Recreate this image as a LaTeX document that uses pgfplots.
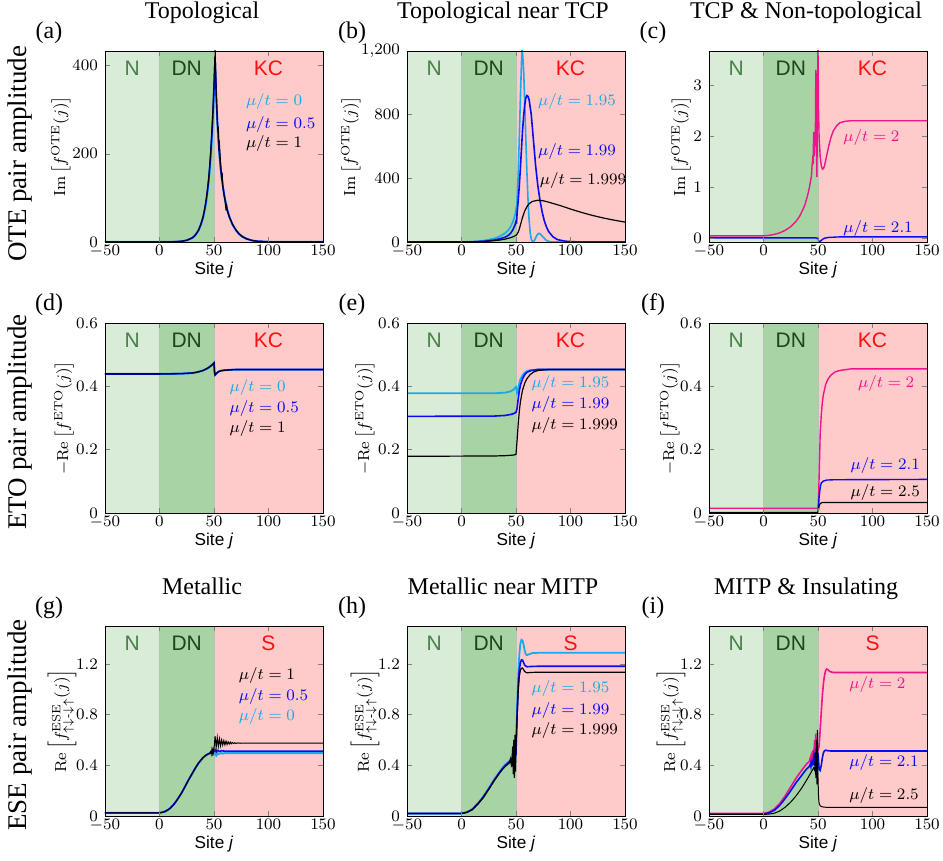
\documentclass[border=0pt]{standalone}
\usepackage{amsmath}
\usepackage[no-math]{fontspec}
\setmainfont{Liberation Serif}
\setsansfont{Liberation Sans}
\usepackage{pgfplots}
\pgfplotsset{compat=1.18}

\definecolor{lb}{RGB}{25,170,235}
\definecolor{bl}{RGB}{10,10,245}
\definecolor{pk}{RGB}{238,20,140}
\definecolor{cN}{RGB}{217,236,216}
\definecolor{cDN}{RGB}{168,211,164}
\definecolor{cKC}{RGB}{255,202,202}
\definecolor{cNt}{RGB}{72,130,72}
\definecolor{cDNt}{RGB}{28,70,28}
\definecolor{cKCt}{RGB}{255,15,15}
\definecolor{cSep}{RGB}{185,195,185}

% shaded N / DN / KC regions, args: ymin, ymax, right region name
\newcommand{\regions}[3]{%
  \fill[cN] (axis cs:-50,#1) rectangle (axis cs:0,#2);
  \fill[cDN] (axis cs:0,#1) rectangle (axis cs:50,#2);
  \fill[cKC] (axis cs:50,#1) rectangle (axis cs:150,#2);
  \draw[cSep,line width=0.4pt] (axis cs:0,#1) -- (axis cs:0,#2);
  \draw[cSep,line width=0.4pt] (axis cs:50,#1) -- (axis cs:50,#2);
  \node[font=\sffamily\fontsize{10.5}{12}\selectfont,text=cNt] at (rel axis cs:0.125,0.91) {N};
  \node[font=\sffamily\fontsize{10.5}{12}\selectfont,text=cDNt] at (rel axis cs:0.375,0.91) {DN};
  \node[font=\sffamily\fontsize{10.5}{12}\selectfont,text=cKCt] at (rel axis cs:0.75,0.91) {#3};
}

\pgfplotsset{
  panel/.style={
    scale only axis, width=109pt, height=95pt,
    xmin=-50, xmax=150, xtick={-50,0,50,100,150},
    tick align=inside, major tick length=2.5pt, axis on top,
    tick label style={font=\fontsize{8}{9}\selectfont},
    xticklabel style={inner sep=1.2pt},
    xlabel={Site \textit{j}},
    xlabel style={font=\sffamily\fontsize{8.6}{10}\selectfont, at={(axis description cs:0.5,-0.171)}, anchor=base},
    ylabel style={font=\fontsize{8}{9}\selectfont, anchor=center},
  },
}
\tikzset{lbl/.style={anchor=west, inner sep=0pt, font=\fontsize{8.3}{9}\selectfont}}

\begin{document}
\begin{tikzpicture}
\path[use as bounding box] (0,0) rectangle (471.5pt,430.5pt);

% titles, panel letters, row labels
\begin{scope}[every node/.style={font=\fontsize{12}{14}\selectfont}]
\node[anchor=base] at (101pt,421pt) {Topological};
\node[anchor=base] at (251.5pt,421pt) {Topological near TCP};
\node[anchor=base] at (403pt,421pt) {TCP \& Non-topological};
\node[anchor=base] at (101pt,133pt) {Metallic};
\node[anchor=base] at (251.5pt,133pt) {Metallic near MITP};
\node[anchor=base] at (403pt,133pt) {MITP \& Insulating};
\node at (24.5pt,414pt) {(a)};
\node at (176pt,414pt) {(b)};
\node at (326.5pt,414pt) {(c)};
\node at (24.5pt,278pt) {(d)};
\node at (176pt,278pt) {(e)};
\node at (326.5pt,278pt) {(f)};
\node at (24.5pt,126.5pt) {(g)};
\node at (176pt,126.5pt) {(h)};
\node at (326.5pt,126.5pt) {(i)};
\end{scope}
\begin{scope}[every node/.style={font=\fontsize{13.5}{15}\selectfont, rotate=90}]
\node at (10pt,353.5pt) {OTE pair amplitude};
\node at (10pt,219.5pt) {ETO pair amplitude};
\node at (10pt,68pt) {ESE pair amplitude};
\end{scope}

% (a)
\begin{axis}[panel, at={(52.5pt,309.5pt)}, anchor=south west, height=95.5pt,
  ymin=0, ymax=433, ytick={0,200,400},
  ylabel={$\mathrm{Im}\left[f^{\mathrm{OTE}}(j)\right]$},
  ylabel style={at={(axis description cs:-0.202,0.5)}}]
\regions{0}{433}{KC}
\addplot[lb, line width=1pt] coordinates {(-50,0) (0,0.04) (10,0.25) (15,0.6) (20,1.5) (25,3.7) (30,9) (32,13) (34,19) (36,27) (38,39) (40,55) (42,79) (43,95) (44,113) (45,135) (46,162) (47,195) (48,235) (49,283) (50,340) (51,403) (52,330) (53,272) (54,230) (55,196) (56,168) (58,127) (60,97) (62,74) (64,57) (67,39) (70,27) (73,18) (76,12) (80,7) (85,3.3) (90,1.6) (100,0.4) (110,0.1) (120,0) (150,0)};
\addplot[bl, line width=0.8pt] coordinates {(-50,0) (0,0.04) (10,0.26) (15,0.62) (20,1.55) (25,3.8) (30,9.2) (32,13.3) (34,19.5) (36,27.6) (38,40) (40,56) (42,81) (43,97) (44,116) (45,138) (46,166) (47,200) (48,241) (49,290) (50,348) (51,415) (52,338) (53,278) (54,235) (55,200) (56,171) (58,129) (60,98) (62,75) (64,58) (67,40) (70,27.5) (73,18.3) (76,12.2) (80,7.1) (85,3.4) (90,1.6) (100,0.4) (110,0.1) (120,0) (150,0)};
\addplot[black, line width=0.5pt] coordinates {(-50,0) (0,0.04) (10,0.26) (15,0.63) (20,1.6) (25,3.9) (30,9.4) (32,13.6) (34,20) (36,28.2) (38,41) (40,57.5) (42,83) (43,99) (44,119) (45,142) (46,171) (47,206) (48,249) (49,300) (50,362) (51,445) (52,345) (53,280) (53.5,250) (54,262) (54.5,215) (55,222) (56,180) (57,140) (57.5,158) (58,128) (59,108) (60,96) (61,72) (61.5,86) (62,72) (64,57) (67,40) (70,27.5) (73,18.3) (76,12.2) (80,7.1) (85,3.4) (90,1.6) (100,0.4) (110,0.1) (120,0) (150,0)};
\node[lbl, text=lb] at (axis cs:79,318) {$\mu/t = 0$};
\node[lbl, text=bl] at (axis cs:79,267) {$\mu/t = 0.5$};
\node[lbl, text=black] at (axis cs:79,223) {$\mu/t = 1$};
\end{axis}

% (b)
\begin{axis}[panel, at={(203.5pt,309.5pt)}, anchor=south west, height=95.5pt,
  ymin=0, ymax=1200, ytick={0,400,800,1200},
  ylabel={$\mathrm{Im}\left[f^{\mathrm{OTE}}(j)\right]$},
  ylabel style={at={(axis description cs:-0.257,0.5)}}]
\regions{0}{1200}{KC}
\addplot[lb, line width=0.8pt] coordinates {(-50,0) (0,0.5) (10,2) (20,8) (30,22) (35,35) (40,55) (43,75) (45,95) (47,125) (48,145) (49,165) (50,205) (50.5,190) (51,260) (52,420) (53,650) (54,900) (55,1120) (55.5,1210) (56,1190) (57,1080) (58,880) (59,650) (60,440) (61,270) (62,140) (63,60) (64,18) (65,5) (66,2) (67,10) (68,25) (69,40) (70,50) (71,54) (72,52) (73,45) (75,30) (77,15) (79,6) (82,1) (90,0) (150,0)};
\addplot[bl, line width=0.8pt] coordinates {(-50,0) (0,0.3) (10,1) (20,4) (30,12) (35,20) (40,30) (43,42) (45,55) (47,75) (48,90) (49,105) (50,130) (50.5,125) (51,180) (52,260) (53,350) (54,460) (55,580) (56,700) (57,790) (58,860) (59,905) (60,920) (61,915) (62,895) (64,800) (66,640) (68,480) (70,355) (72,262) (74,188) (76,132) (78,93) (80,65) (84,32) (88,15) (95,5) (105,1) (120,0) (150,0)};
\addplot[black, line width=0.6pt] coordinates {(-50,0) (0,0.3) (10,1) (20,3) (30,8) (35,12) (40,18) (45,27) (48,35) (50,42) (51,50) (52,62) (53,80) (54,105) (55,130) (56,155) (58,195) (60,222) (62,240) (65,255) (70,262) (75,259) (80,250) (90,230) (100,207) (110,186) (120,167) (130,151) (140,137) (150,125)};
\node[lbl, text=lb] at (axis cs:70,880) {$\mu/t = 1.95$};
\node[lbl, text=bl] at (axis cs:70,566) {$\mu/t = 1.99$};
\node[lbl, text=black] at (axis cs:71.5,388) {$\mu/t = 1.999$};
\end{axis}

% (c)
\begin{axis}[panel, at={(354.5pt,309.5pt)}, anchor=south west, height=95.5pt,
  ymin=-0.08, ymax=3.67, ytick={0,1,2,3},
  ylabel={$\mathrm{Im}\left[f^{\mathrm{OTE}}(j)\right]$},
  ylabel style={at={(axis description cs:-0.128,0.5)}}]
\regions{-0.08}{3.67}{KC}
\addplot[pk, line width=0.7pt] coordinates {(-50,0.04) (0,0.04) (5,0.05) (10,0.07) (15,0.1) (20,0.15) (25,0.22) (30,0.33) (33,0.42) (36,0.55) (38,0.65) (40,0.8) (41,0.88) (42,0.98) (43,1.1) (44,1.22) (44.5,1.4) (45,1.52) (45.5,1.45) (46,2.08) (46.5,1.6) (47,1.9) (47.5,1.8) (48,3.3) (48.5,1.9) (49,1.2) (49.5,2.8) (50,3.8) (50.5,2.5) (51,2.0) (52,1.6) (53,1.42) (54,1.35) (55,1.36) (56,1.42) (58,1.62) (60,1.82) (62,1.98) (64,2.1) (67,2.2) (70,2.26) (75,2.29) (80,2.3) (150,2.3)};
\addplot[bl, line width=0.7pt] coordinates {(-50,0) (48,0) (50,-0.01) (51,-0.09) (52,-0.07) (54,-0.03) (56,-0.005) (60,0.01) (70,0.02) (150,0.02)};
\node[lbl, text=pk] at (axis cs:73,1.97) {$\mu/t = 2$};
\node[lbl, text=bl] at (axis cs:73,0.18) {$\mu/t = 2.1$};
\end{axis}

% (d)
\begin{axis}[panel, at={(52.5pt,174pt)}, anchor=south west,
  ymin=0, ymax=0.6, ytick={0,0.2,0.4,0.6},
  ylabel={$-\mathrm{Re}\left[f^{\mathrm{ETO}}(j)\right]$},
  ylabel style={at={(axis description cs:-0.188,0.5)}}]
\regions{0}{0.6}{KC}
\addplot[lb, line width=1pt] coordinates {(-50,0.439) (0,0.439) (10,0.4395) (20,0.44) (25,0.441) (30,0.442) (35,0.445) (40,0.45) (43,0.455) (45,0.459) (47,0.464) (49,0.47) (50,0.474) (50.5,0.445) (51,0.436) (52,0.44) (54,0.446) (56,0.449) (60,0.451) (70,0.453) (150,0.453)};
\addplot[bl, line width=0.8pt] coordinates {(-50,0.439) (0,0.439) (10,0.4395) (20,0.44) (25,0.441) (30,0.442) (35,0.445) (40,0.45) (43,0.455) (45,0.459) (47,0.464) (49,0.47) (50,0.474) (50.5,0.445) (51,0.436) (52,0.44) (54,0.446) (56,0.449) (60,0.451) (70,0.453) (150,0.453)};
\addplot[black, line width=0.5pt] coordinates {(-50,0.439) (0,0.439) (10,0.4395) (20,0.44) (25,0.441) (30,0.442) (35,0.445) (40,0.45) (43,0.455) (45,0.459) (47,0.464) (49,0.47) (50,0.474) (50.5,0.445) (51,0.436) (52,0.44) (54,0.446) (56,0.449) (60,0.451) (70,0.453) (150,0.453)};
\node[lbl, text=lb] at (axis cs:64,0.397) {$\mu/t = 0$};
\node[lbl, text=bl] at (axis cs:64,0.33) {$\mu/t = 0.5$};
\node[lbl, text=black] at (axis cs:64,0.268) {$\mu/t = 1$};
\end{axis}

% (e)
\begin{axis}[panel, at={(203.5pt,174pt)}, anchor=south west,
  ymin=0, ymax=0.6, ytick={0,0.2,0.4,0.6},
  ylabel={$-\mathrm{Re}\left[f^{\mathrm{ETO}}(j)\right]$},
  ylabel style={at={(axis description cs:-0.193,0.5)}}]
\regions{0}{0.6}{KC}
\addplot[lb, line width=0.9pt] coordinates {(-50,0.378) (30,0.378) (40,0.38) (45,0.384) (48,0.39) (50,0.398) (50.5,0.392) (51,0.38) (52,0.39) (53,0.41) (54,0.422) (56,0.435) (58,0.443) (60,0.448) (63,0.451) (70,0.453) (150,0.453)};
\addplot[bl, line width=0.8pt] coordinates {(-50,0.305) (30,0.306) (40,0.308) (45,0.311) (48,0.314) (50,0.318) (51,0.33) (52,0.36) (53,0.385) (54,0.403) (56,0.424) (58,0.437) (60,0.444) (63,0.449) (70,0.453) (150,0.453)};
\addplot[black, line width=0.6pt] coordinates {(-50,0.179) (30,0.18) (40,0.181) (48,0.183) (50,0.185) (51,0.23) (52,0.28) (53,0.32) (54,0.35) (55,0.37) (56,0.388) (58,0.41) (60,0.424) (63,0.437) (66,0.445) (70,0.45) (80,0.453) (150,0.453)};
\node[lbl, text=lb] at (axis cs:64,0.408) {$\mu/t = 1.95$};
\node[lbl, text=bl] at (axis cs:64,0.344) {$\mu/t = 1.99$};
\node[lbl, text=black] at (axis cs:64,0.277) {$\mu/t = 1.999$};
\end{axis}

% (f)
\begin{axis}[panel, at={(354.5pt,174pt)}, anchor=south west,
  ymin=0, ymax=0.6, ytick={0,0.2,0.4,0.6},
  ylabel={$-\mathrm{Re}\left[f^{\mathrm{ETO}}(j)\right]$},
  ylabel style={at={(axis description cs:-0.179,0.5)}}]
\regions{0}{0.6}{KC}
\addplot[pk, line width=0.7pt] coordinates {(-50,0.015) (50,0.015) (50.5,0.05) (51,0.11) (52,0.25) (53,0.31) (54,0.35) (55,0.375) (57,0.405) (59,0.422) (62,0.436) (66,0.446) (70,0.45) (80,0.455) (150,0.455)};
\addplot[bl, line width=0.7pt] coordinates {(-50,0.001) (50,0.001) (50.5,0.02) (51,0.05) (52,0.08) (53,0.095) (55,0.101) (58,0.104) (65,0.105) (150,0.106)};
\addplot[black, line width=0.6pt] coordinates {(-50,0.001) (50,0.001) (50.5,0.01) (51,0.022) (52,0.03) (54,0.033) (150,0.033)};
\node[lbl, text=pk] at (axis cs:86.5,0.408) {$\mu/t = 2$};
\node[lbl, text=bl] at (axis cs:79.5,0.15) {$\mu/t = 2.1$};
\node[lbl, text=black] at (axis cs:79.5,0.066) {$\mu/t = 2.5$};
\end{axis}

% (g)
\begin{axis}[panel, at={(52.5pt,22.5pt)}, anchor=south west,
  ymin=0, ymax=1.5, ytick={0,0.4,0.8,1.2},
  ylabel={$\mathrm{Re}\left[f^{\mathrm{ESE}}_{\uparrow\downarrow\text{-}\downarrow\uparrow}(j)\right]$},
  ylabel style={at={(axis description cs:-0.197,0.5)}}]
\regions{0}{1.5}{S}
\addplot[lb, line width=1pt] coordinates {(-50,0.025) (0,0.025) (2,0.028) (5,0.035) (8,0.05) (10,0.063) (13,0.09) (16,0.125) (20,0.178) (23,0.225) (26,0.275) (30,0.335) (33,0.38) (36,0.42) (40,0.461) (43,0.482) (46,0.495) (48,0.5) (50,0.505) (51,0.49) (52,0.478) (53,0.498) (54,0.488) (56,0.497) (58,0.493) (60,0.496) (150,0.496)};
\addplot[bl, line width=0.8pt] coordinates {(-50,0.025) (0,0.025) (2,0.028) (5,0.035) (8,0.05) (10,0.063) (13,0.09) (16,0.125) (20,0.178) (23,0.225) (26,0.275) (30,0.335) (33,0.38) (36,0.42) (40,0.461) (43,0.482) (46,0.495) (48,0.503) (50,0.51) (51,0.522) (52,0.505) (53,0.518) (55,0.51) (57,0.515) (60,0.512) (150,0.512)};
\addplot[black, line width=0.5pt] coordinates {(-50,0.025) (0,0.025) (2,0.028) (5,0.035) (8,0.05) (10,0.063) (13,0.09) (16,0.125) (20,0.178) (23,0.225) (26,0.275) (30,0.335) (33,0.38) (36,0.42) (40,0.461) (43,0.482) (46,0.495) (47,0.51) (47.5,0.49) (48,0.52) (48.5,0.495) (49,0.525) (49.5,0.5) (50,0.53) (51,0.63) (52,0.54) (53,0.62) (54,0.55) (55,0.61) (56,0.555) (57,0.6) (58,0.56) (59,0.595) (60,0.562) (61,0.59) (62,0.565) (63,0.586) (64,0.568) (65,0.583) (66,0.57) (67,0.58) (68,0.572) (69,0.578) (70,0.573) (72,0.577) (74,0.574) (76,0.576) (80,0.575) (150,0.575)};
\node[lbl, text=black] at (axis cs:72.5,1.108) {$\mu/t = 1$};
\node[lbl, text=bl] at (axis cs:72.5,0.946) {$\mu/t = 0.5$};
\node[lbl, text=lb] at (axis cs:72.5,0.786) {$\mu/t = 0$};
\end{axis}

% (h)
\begin{axis}[panel, at={(203.5pt,22.5pt)}, anchor=south west,
  ymin=0, ymax=1.5, ytick={0,0.4,0.8,1.2},
  ylabel={$\mathrm{Re}\left[f^{\mathrm{ESE}}_{\uparrow\downarrow\text{-}\downarrow\uparrow}(j)\right]$},
  ylabel style={at={(axis description cs:-0.193,0.5)}}]
\regions{0}{1.5}{S}
\addplot[lb, line width=0.9pt] coordinates {(-50,0.02) (0,0.02) (5,0.03) (10,0.055) (15,0.1) (20,0.155) (25,0.22) (30,0.29) (35,0.35) (38,0.385) (40,0.405) (42,0.42) (44,0.435) (45,0.45) (46,0.425) (47,0.47) (48,0.44) (49,0.5) (50,0.56) (51,0.85) (52,1.1) (53,1.27) (54,1.36) (55,1.39) (56,1.385) (57,1.35) (58,1.305) (59,1.278) (60,1.27) (62,1.277) (65,1.286) (70,1.288) (150,1.288)};
\addplot[bl, line width=0.8pt] coordinates {(-50,0.02) (0,0.02) (5,0.03) (10,0.053) (15,0.097) (20,0.15) (25,0.215) (30,0.283) (35,0.345) (38,0.378) (40,0.398) (42,0.412) (44,0.43) (45,0.44) (46,0.41) (47,0.48) (48,0.42) (49,0.52) (50,0.5) (51,0.8) (52,1.02) (53,1.15) (54,1.21) (55,1.232) (56,1.23) (57,1.21) (58,1.19) (60,1.178) (63,1.18) (70,1.182) (150,1.182)};
\addplot[black, line width=0.6pt] coordinates {(-50,0.02) (0,0.02) (5,0.028) (10,0.05) (15,0.093) (20,0.145) (25,0.21) (30,0.278) (35,0.34) (38,0.372) (40,0.39) (42,0.405) (44,0.42) (45,0.45) (46,0.39) (47,0.55) (47.5,0.33) (48,0.6) (48.5,0.3) (49,0.64) (49.5,0.35) (50,0.55) (51,0.78) (52,0.98) (53,1.1) (54,1.15) (55,1.167) (56,1.168) (57,1.155) (58,1.14) (60,1.13) (63,1.133) (70,1.135) (150,1.135)};
\node[lbl, text=lb] at (axis cs:64,1.003) {$\mu/t = 1.95$};
\node[lbl, text=bl] at (axis cs:64,0.833) {$\mu/t = 1.99$};
\node[lbl, text=black] at (axis cs:64,0.671) {$\mu/t = 1.999$};
\end{axis}

% (i)
\begin{axis}[panel, at={(354.5pt,22.5pt)}, anchor=south west,
  ymin=0, ymax=1.5, ytick={0,0.4,0.8,1.2},
  ylabel={$\mathrm{Re}\left[f^{\mathrm{ESE}}_{\uparrow\downarrow\text{-}\downarrow\uparrow}(j)\right]$},
  ylabel style={at={(axis description cs:-0.174,0.5)}}]
\regions{0}{1.5}{S}
\addplot[pk, line width=0.8pt] coordinates {(-50,0.02) (0,0.02) (5,0.03) (10,0.055) (15,0.1) (20,0.16) (25,0.23) (30,0.3) (35,0.36) (38,0.395) (40,0.415) (42,0.43) (43,0.46) (43.5,0.44) (44,0.48) (45,0.45) (45.5,0.52) (46,0.47) (47,0.6) (47.5,0.5) (48,0.65) (48.5,0.45) (49,0.62) (49.5,0.5) (50,0.52) (51,0.55) (52,0.68) (53,0.82) (54,0.95) (55,1.05) (56,1.11) (57,1.15) (58,1.16) (59,1.155) (61,1.14) (64,1.133) (70,1.133) (150,1.133)};
\addplot[bl, line width=0.8pt] coordinates {(-50,0.015) (0,0.015) (5,0.025) (10,0.045) (15,0.085) (20,0.14) (25,0.2) (30,0.265) (35,0.32) (38,0.355) (40,0.375) (42,0.39) (43,0.41) (43.5,0.39) (44,0.43) (45,0.41) (46,0.47) (46.5,0.4) (47,0.5) (48,0.42) (49,0.55) (49.5,0.38) (50,0.5) (51,0.37) (52,0.36) (53,0.4) (54,0.46) (55,0.5) (56,0.515) (57,0.52) (59,0.515) (62,0.513) (150,0.513)};
\addplot[black, line width=0.5pt] coordinates {(-50,0.012) (0,0.012) (5,0.015) (10,0.022) (15,0.04) (20,0.07) (25,0.11) (30,0.16) (35,0.22) (40,0.29) (44,0.35) (46,0.38) (47,0.36) (47.5,0.5) (48,0.3) (48.5,0.6) (49,0.25) (49.5,0.68) (50,0.3) (50.5,0.15) (51,0.1) (52,0.08) (54,0.072) (57,0.069) (150,0.068)};
\node[lbl, text=pk] at (axis cs:78.5,1.037) {$\mu/t = 2$};
\node[lbl, text=bl] at (axis cs:78.5,0.419) {$\mu/t = 2.1$};
\node[lbl, text=black] at (axis cs:78.5,0.165) {$\mu/t = 2.5$};
\end{axis}
\end{tikzpicture}
\end{document}
